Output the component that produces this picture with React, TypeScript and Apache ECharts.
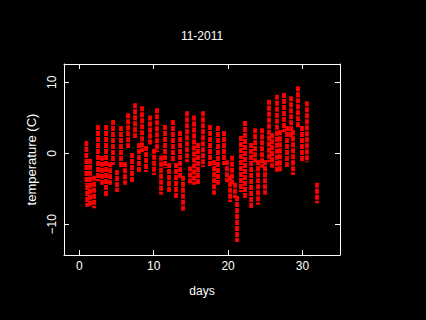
import React, { useEffect, useRef } from "react";
import * as echarts from "echarts";

// Streaks of readings: position (days), lowest and highest temperature (C)
const streakDay = [
  0.95, 1.05, 1.44, 1.98, 2.51, 3.05, 3.59, 4.13, 4.53, 5.07, 5.6, 6.14, 6.55, 7.08, 7.49, 8.02,
  8.43, 8.97, 9.5, 10.04, 10.44, 10.98, 11.52, 12.06, 12.59, 13.0, 13.54, 13.94, 14.48, 14.88,
  15.42, 15.95, 16.63, 17.57, 18.11, 18.64, 19.45, 19.85, 20.26, 20.53, 20.93, 21.2, 21.73,
  22.27, 23.09, 23.62, 24.02, 24.56, 24.96, 25.5, 25.9, 26.57, 26.98, 27.51, 27.92, 28.46,
  28.73, 29.39, 29.93, 30.6, 31.95,
];
const streakLow = [
  -4.3, -7.4, -7.3, -7.6, -3.8, -4.3, -6.0, -4.3, -1.5, -5.3, -1.9, -4.3, 0.9, -3.9, 2.3, -2.5,
  0.3, -2.5, 1.3, -2.9, 0.3, -5.7, -1.9, -5.3, -1.1, -6.2, -3.3, -8.0, -1.1, -4.3,
  -4.3, -4.3, -1.8, -1.8, -5.7, -4.3, -1.5, -3.9, -6.7, -4.3, -6.2, -12.35, -5.3,
  -6.2, -7.6, -1.1, -7.1, -1.9, -5.7, -1.1, -1.9, -2.5, -2.5, 3.1, -1.9, 2.3,
  -2.9, 3.7, -1.1, -1.1, -6.9,
];
const streakHigh = [
  1.6, -4.6, -0.9, -3.3, 3.85, -0.5, 3.85, -1.4, 4.55, -2.5, 3.7, -1.4, 5.5, -0.1, 6.9, 1.3,
  6.5, 0.9, 5.2, 0.5, 6.2, -0.5, 3.85, -1.5, 4.55, -1.5, 3.0, -3.3, 5.8, -2.0,
  5.2, 1.3, 5.8, 3.85, -1.1, 3.7, 3.0, -1.1, -3.3, -0.5, -4.3, -6.15, 2.3,
  4.4, 1.3, 3.4, -1.1, 3.4, -1.1, 7.4, 2.7, 8.1, 3.1, 8.35, 3.7, 7.9,
  3.1, 9.3, 3.7, 7.2, -4.3,
];

const xTicks = [0, 10, 20, 30];
const yTicks = [-10, 0, 10];

const FONT = "Liberation Sans";

export default function App() {
  const ref = useRef<HTMLDivElement>(null);
  useEffect(() => {
    if (!ref.current) return;
    const chart = echarts.init(ref.current, undefined, { renderer: "svg" });
    const data = streakDay.map((d, i) => [d, streakLow[i], streakHigh[i]]);
    const axisCommon = {
      type: "value" as const,
      splitLine: { show: false },
      axisLine: { show: true, onZero: false, lineStyle: { color: "#ffffff", width: 1 } },
    };
    chart.setOption({
      animation: false,
      backgroundColor: "#000000",
      graphic: [
        {
          type: "text",
          x: 202,
          y: 36,
          style: {
            text: "11-2011",
            fill: "#ffffff",
            font: `12px "${FONT}"`,
            textAlign: "center",
            textVerticalAlign: "middle",
          },
        },
      ],
      grid: { left: 64, right: 86, top: 64, bottom: 65 },
      xAxis: [
        {
          ...axisCommon,
          position: "bottom",
          min: -2.06,
          max: 35.04,
          name: "days",
          nameLocation: "middle",
          nameGap: 30,
          nameTextStyle: { color: "#ffffff", fontFamily: FONT, fontSize: 12 },
          axisTick: { show: true, inside: true, length: 5, customValues: xTicks, lineStyle: { color: "#ffffff" } },
          axisLabel: { show: true, customValues: xTicks, margin: 5, color: "#ffffff", fontFamily: FONT, fontSize: 12 },
        },
        {
          ...axisCommon,
          position: "top",
          min: -2.06,
          max: 35.04,
          axisTick: { show: true, inside: true, length: 5, customValues: xTicks, lineStyle: { color: "#ffffff" } },
          axisLabel: { show: false },
        },
      ],
      yAxis: [
        {
          ...axisCommon,
          position: "left",
          min: -14.32,
          max: 12.58,
          name: "temperature (C)",
          nameLocation: "middle",
          nameGap: 24,
          nameTextStyle: { color: "#ffffff", fontFamily: FONT, fontSize: 13 },
          axisTick: { show: true, inside: true, length: 5, customValues: yTicks, lineStyle: { color: "#ffffff" } },
          axisLabel: {
            show: true,
            customValues: yTicks,
            rotate: 90,
            margin: 6,
            color: "#ffffff",
            fontFamily: FONT,
            fontSize: 12,
            formatter: (v: number) => String(v).replace("-", "\u2212"),
          },
        },
        {
          ...axisCommon,
          position: "right",
          min: -14.32,
          max: 12.58,
          axisTick: { show: true, inside: true, length: 5, customValues: yTicks, lineStyle: { color: "#ffffff" } },
          axisLabel: { show: false },
        },
      ],
      series: [
        {
          type: "custom",
          xAxisIndex: 0,
          yAxisIndex: 0,
          data,
          renderItem: (params: any, api: any) => {
            const x = api.value(0);
            const p1 = api.coord([x, api.value(2)]);
            const p2 = api.coord([x, api.value(1)]);
            return {
              type: "line",
              shape: { x1: p1[0], y1: p1[1] - 1, x2: p2[0], y2: p2[1] + 1 },
              style: { stroke: "#ff0000", lineWidth: 3.8, lineDash: [5, 1] },
            };
          },
        },
      ],
    });
    return () => chart.dispose();
  }, []);
  return (
    <div
      ref={ref}
      style={{ position: "fixed", left: 0, top: 0, width: 426, height: 320 }}
    />
  );
}
